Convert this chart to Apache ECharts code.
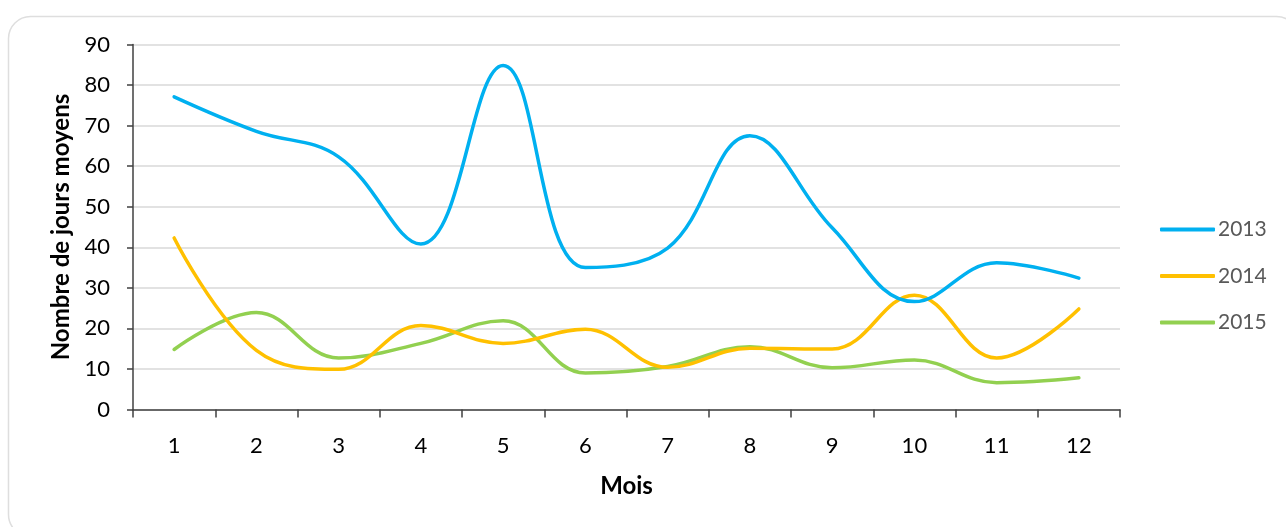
<!DOCTYPE html>
<html>
<head>
<meta charset="utf-8">
<script src="https://cdn.jsdelivr.net/npm/echarts@6/dist/echarts.min.js"></script>
<style>
  html, body { margin: 0; padding: 0; background: #fff; }
  #chart { width: 1286px; height: 527px; }
</style>
</head>
<body>
<div id="chart"></div>
<script>
const months = ['1','2','3','4','5','6','7','8','9','10','11','12'];
const s2013 = [77.1, 68.6, 62.3, 40.8, 84.8, 35.0, 39.8, 67.5, 44.8, 26.6, 36.2, 32.4];
const s2014 = [42.3, 14.6, 9.9, 20.7, 16.3, 19.8, 10.4, 15.1, 14.9, 28.2, 12.7, 24.8];
const s2015 = [14.8, 23.9, 12.7, 16.3, 21.9, 9.0, 10.6, 15.5, 10.3, 12.2, 6.6, 7.8];
const seriesNames = ['2013', '2014', '2015'];
const yTicks = { min: 0, max: 90, interval: 10 };

const FONT = 'Lato, "Open Sans", sans-serif';
const colors = ['#00b0f0', '#ffc000', '#92d050'];

const chart = echarts.init(document.getElementById('chart'), null, { renderer: 'canvas' });
const data = [s2013, s2014, s2015];

chart.setOption({
  animation: false,
  textStyle: { fontFamily: FONT },
  graphic: [{
    type: 'rect',
    shape: { x: 8.5, y: 16.5, width: 1290, height: 520, r: 22 },
    style: { fill: 'none', stroke: '#dedede', lineWidth: 1.5 },
    z: -1
  }],
  grid: { left: 133, right: 166, top: 44.5, bottom: 117.5, containLabel: false },
  legend: {
    orient: 'vertical',
    left: 1155,
    top: 214,
    icon: 'roundRect',
    itemWidth: 55,
    itemHeight: 4,
    itemGap: 25.5,
    textStyle: { fontFamily: FONT, fontSize: 21, color: '#595959', padding: [0, 0, 0, -2] },
    data: seriesNames
  },
  xAxis: {
    type: 'category',
    data: months,
    boundaryGap: true,
    name: 'Mois',
    nameLocation: 'middle',
    nameGap: 65,
    nameTextStyle: { fontFamily: FONT, fontSize: 24, fontWeight: 'bold', color: '#000' },
    axisLine: { lineStyle: { color: '#404040', width: 1.5 } },
    axisTick: { show: true, length: 8, lineStyle: { color: '#404040', width: 1.5 } },
    axisLabel: { fontFamily: FONT, fontSize: 22, color: '#000', margin: 25 },
    splitLine: { show: false }
  },
  yAxis: {
    type: 'value',
    min: yTicks.min,
    max: yTicks.max,
    interval: yTicks.interval,
    name: 'Nombre de jours moyens',
    nameLocation: 'middle',
    nameGap: 59,
    nameTextStyle: { fontFamily: FONT, fontSize: 24, fontWeight: 'bold', color: '#000' },
    axisLine: { show: true, lineStyle: { color: '#404040', width: 1.5 } },
    axisTick: { show: true, length: 6, lineStyle: { color: '#404040', width: 1.5 } },
    axisLabel: { fontFamily: FONT, fontSize: 22, color: '#000', margin: 23 },
    splitLine: { show: true, lineStyle: { color: '#d9d9d9', width: 1.5 } }
  },
  series: seriesNames.map((n, i) => ({
    name: n,
    type: 'line',
    data: data[i],
    smooth: 0.4,
    symbol: 'none',
    showSymbol: false,
    lineStyle: { color: colors[i], width: 3.5, cap: 'round' },
    itemStyle: { color: colors[i] },
    z: 3 - i
  }))
});
</script>
</body>
</html>
